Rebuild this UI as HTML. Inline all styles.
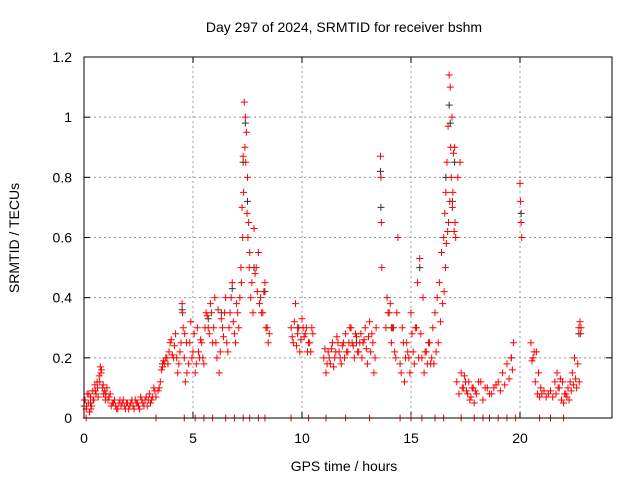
<!DOCTYPE html>
<html><head><meta charset="utf-8"><style>
body{margin:0;background:#fff}
svg{display:block;font-family:"Liberation Sans",sans-serif}
</style></head><body>
<svg id="chart" width="640" height="480" viewBox="0 0 640 480">
<rect width="640" height="480" fill="#fff"/>
<text x="344" y="32" font-size="14" text-anchor="middle">Day 297 of 2024, SRMTID for receiver bshm</text>
<text x="344" y="471" font-size="14" text-anchor="middle">GPS time / hours</text>
<text transform="translate(19,238) rotate(-90)" font-size="14" text-anchor="middle">SRMTID / TECUs</text>
<g id="grid"></g><g id="ticks"></g><g id="points"></g>
<rect x="84" y="57" width="528" height="361" fill="none" stroke="#000" stroke-width="1"/>
</svg>
<script>
const xTicks=[0,5,10,15,20];
const yTicks=[0,0.2,0.4,0.6,0.8,1,1.2];
const yTickLabels=["0","0.2","0.4","0.6","0.8","1","1.2"];
const hours=[0.0,0.05,0.1,0.15,0.2,0.25,0.3,0.35,0.4,0.45,0.5,0.55,0.6,0.65,0.7,0.75,0.8,0.85,0.9,0.95,1.0,1.05,1.1,1.2,1.3,1.4,1.5,1.6,1.7,1.8,1.9,2.0,2.1,2.2,2.3,2.4,2.5,2.6,2.7,2.8,2.9,3.0,3.1,3.2,3.3,3.4,3.5,3.6,3.7,3.8,3.9,4.0,4.1,4.2,4.3,4.4,4.5,4.55,4.6,4.65,4.7,4.8,4.9,5.0,5.1,5.2,5.3,5.4,5.5,5.6,5.7,5.8,5.9,6.0,6.1,6.2,6.3,6.4,6.5,6.6,6.7,6.8,6.9,7.0,7.1,7.2,7.25,7.3,7.35,7.4,7.45,7.5,7.55,7.6,7.7,7.8,7.9,8.0,8.1,8.2,8.3,8.4,8.5,9.5,9.6,9.7,9.8,9.9,10.0,10.1,10.2,10.3,10.4,10.5,11.0,11.1,11.2,11.3,11.4,11.5,11.6,11.7,11.8,11.9,12.0,12.1,12.2,12.3,12.4,12.5,12.6,12.7,12.8,12.9,13.0,13.1,13.2,13.3,13.4,13.6,13.62,13.64,13.66,13.9,14.0,14.1,14.2,14.3,14.4,14.5,14.6,14.7,14.8,14.9,15.0,15.1,15.2,15.3,15.4,15.5,15.6,15.7,15.8,15.9,16.0,16.1,16.2,16.3,16.4,16.5,16.55,16.6,16.65,16.7,16.75,16.8,16.85,16.9,16.95,17.0,17.05,17.1,17.2,17.3,17.4,17.5,17.6,17.7,17.8,17.9,18.0,18.2,18.4,18.6,18.8,19.0,19.2,19.4,19.6,19.7,20.0,20.02,20.05,20.08,20.5,20.6,20.7,20.8,20.9,21.0,21.2,21.4,21.6,21.7,21.8,21.9,22.0,22.1,22.2,22.3,22.4,22.5,22.6,22.7,22.75,22.8];
const srmtid=[.04,.06,.03,.08,.05,.02,.07,.04,.09,.06,.11,.08,.12,.07,.14,.17,.16,.1,.08,.09,.07,.1,.06,.08,.05,.06,.03,.05,.04,.06,.03,.05,.04,.06,.03,.05,.04,.07,.05,.06,.04,.08,.06,.1,.07,.09,.12,.17,.18,.2,.22,.26,.2,.28,.15,.22,.38,.3,.2,.12,.25,.18,.32,.22,.15,.3,.2,.25,.18,.35,.3,.38,.25,.4,.2,.15,.33,.27,.4,.22,.35,.45,.28,.38,.3,.5,.7,.87,1.05,1.0,.95,.8,.65,.55,.45,.63,.5,.55,.4,.35,.45,.3,.28,.3,.25,.38,.28,.22,.33,.27,.3,.25,.22,.28,.2,.15,.22,.18,.25,.2,.27,.22,.18,.25,.28,.22,.3,.25,.2,.27,.22,.28,.25,.3,.18,.32,.28,.15,.3,.87,.8,.65,.5,.4,.35,.25,.3,.2,.6,.18,.3,.12,.25,.2,.35,.22,.3,.45,.53,.2,.15,.22,.25,.18,.3,.35,.4,.45,.55,.6,.68,.75,.85,.97,1.14,1.1,.8,.7,.88,.9,.6,.12,.08,.15,.1,.12,.08,.06,.1,.05,.08,.12,.1,.08,.1,.12,.15,.18,.2,.25,.78,.72,.65,.6,.25,.2,.12,.08,.07,.08,.07,.09,.12,.15,.1,.06,.05,.08,.1,.12,.15,.2,.1,.3,.32,.3];
const hours2=[0.02,0.12,0.22,0.32,0.42,0.52,0.62,0.72,0.78,0.88,0.98,1.15,1.25,1.35,1.45,1.55,1.65,1.75,1.85,1.95,2.05,2.15,2.25,2.35,2.45,2.55,2.65,2.75,2.85,2.95,3.05,3.15,3.25,3.45,3.55,3.65,3.75,3.85,3.95,4.05,4.15,4.25,4.35,4.45,4.52,4.62,4.72,4.85,4.95,5.05,5.15,5.25,5.35,5.45,5.55,5.65,5.75,5.85,5.95,6.05,6.15,6.25,6.35,6.45,6.55,6.65,6.75,6.85,6.95,7.05,7.15,7.22,7.28,7.32,7.38,7.42,7.48,7.52,7.58,7.65,7.75,7.85,7.95,8.05,8.15,8.25,8.35,8.45,9.55,9.65,9.75,9.85,9.95,10.05,10.15,10.25,10.35,10.45,11.05,11.15,11.25,11.35,11.45,11.55,11.65,11.75,11.85,11.95,12.05,12.15,12.25,12.35,12.45,12.55,12.65,12.75,12.85,12.95,13.05,13.15,13.25,13.35,13.85,13.95,14.05,14.15,14.25,14.35,14.55,14.65,14.75,14.85,14.95,15.05,15.15,15.25,15.35,15.45,15.55,15.65,15.75,15.85,15.95,16.05,16.15,16.25,16.35,16.45,16.52,16.58,16.62,16.68,16.72,16.78,16.82,16.88,16.92,16.98,17.02,17.15,17.25,17.35,17.45,17.55,17.65,17.75,17.85,17.95,18.1,18.3,18.5,18.7,18.9,19.1,19.3,19.5,19.65,20.55,20.65,20.75,20.85,20.95,21.1,21.3,21.5,21.65,21.75,21.85,21.95,22.05,22.15,22.25,22.35,22.45,22.55,22.65,22.72,22.78];
const srmtid2=[.06,.04,.08,.03,.06,.09,.1,.12,.15,.11,.06,.07,.04,.05,.04,.03,.06,.05,.04,.05,.03,.05,.04,.06,.05,.03,.06,.04,.07,.06,.05,.07,.09,.1,.16,.19,.2,.18,.25,.21,.24,.2,.18,.25,.35,.28,.15,.25,.2,.28,.18,.22,.26,.2,.3,.34,.28,.35,.3,.25,.36,.22,.3,.35,.25,.3,.4,.32,.25,.35,.4,.45,.6,.75,.9,.85,.68,.6,.5,.4,.35,.48,.42,.38,.35,.42,.3,.25,.27,.32,.24,.3,.26,.3,.28,.22,.25,.3,.23,.18,.2,.23,.17,.22,.25,.2,.24,.2,.22,.25,.3,.24,.28,.22,.25,.2,.26,.23,.27,.22,.25,.2,.3,.35,.38,.3,.22,.35,.15,.25,.2,.22,.15,.28,.18,.3,.2,.28,.4,.22,.18,.25,.2,.18,.22,.25,.32,.38,.42,.5,.58,.62,.65,.72,.9,1.0,.75,.62,.65,.8,.85,.1,.14,.09,.12,.07,.1,.09,.12,.06,.1,.08,.11,.09,.11,.13,.16,.19,.22,.22,.15,.1,.09,.08,.07,.08,.1,.13,.12,.08,.07,.06,.09,.11,.13,.18,.12,.28,.31,.33];
const darkHours=[0.3,1.0,3.6,4.5,5.7,6.3,6.8,7.3,7.4,7.5,7.8,8.3,9.8,12.5,13.6,13.62,14.1,15.4,16.6,16.75,16.8,16.9,17.0,19.6,20.05,22.7];
const darkValues=[.05,.08,.18,.36,.33,.35,.43,.85,.98,.72,.5,.42,.3,.25,.82,.7,.3,.5,.8,1.04,.98,.72,.85,.2,.68,.28];
const zeroHours=[0.1,3.3,4.6,5.1,5.5,5.9,6.5,6.9,7.3,7.6,8.0,8.3,9.5,10.3,11.1,12.0,13.1,14.5,15.0,15.5,16.1,16.5,17.3,17.9,18.3,18.6,19.0,19.4,19.8,20.9,21.4,22.0];
const zeroValues=zeroHours.map(()=>0);

const X0=84,X1=612,Y0=418,Y1=57,XMAX=24.22,YMAX=1.2;
const xs=h=>X0+(X1-X0)*h/XMAX;
const ys=v=>Y0-(Y0-Y1)*v/YMAX;
const NS="http://www.w3.org/2000/svg";
const mk=(t,a)=>{const e=document.createElementNS(NS,t);for(const k in a)e.setAttribute(k,a[k]);return e;};
const grid=document.getElementById('grid'),ticks=document.getElementById('ticks'),pts=document.getElementById('points');
xTicks.forEach((t,i)=>{const x=xs(t);
 if(t>0){const g=mk('line',{x1:x,x2:x,y1:Y0,y2:Y1,stroke:'#999','stroke-dasharray':'2,3'});
 
 grid.appendChild(g);}
 ticks.appendChild(mk('line',{x1:x,x2:x,y1:Y0,y2:Y0-6,stroke:'#000'}));
 ticks.appendChild(mk('line',{x1:x,x2:x,y1:Y1,y2:Y1+6,stroke:'#000'}));
 const l=mk('text',{x:x,y:443,'font-size':14,'text-anchor':'middle'});l.textContent=String(t);
 
 ticks.appendChild(l);});
yTicks.forEach((t,i)=>{const y=ys(t);
 if(t>0&&t<YMAX){const g=mk('line',{x1:X0,x2:X1,y1:y,y2:y,stroke:'#999','stroke-dasharray':'2,3'});
 
 grid.appendChild(g);}
 ticks.appendChild(mk('line',{x1:X0,x2:X0+6,y1:y,y2:y,stroke:'#000'}));
 ticks.appendChild(mk('line',{x1:X1,x2:X1-6,y1:y,y2:y,stroke:'#000'}));
 const l=mk('text',{x:72,y:y+5,'font-size':14,'text-anchor':'end'});l.textContent=yTickLabels[i];
 
 ticks.appendChild(l);});
function plus(h,v,c){const x=xs(h),y=ys(v);
 const p=mk('path',{d:`M${x-3.5},${y}H${x+3.5}M${x},${y-3.5}V${y+3.5}`,stroke:c,'stroke-width':1});
 
 pts.appendChild(p);}
darkHours.forEach((h,i)=>plus(h,darkValues[i],'#333'));
hours.forEach((h,i)=>plus(h,srmtid[i],'#f00'));
hours2.forEach((h,i)=>plus(h,srmtid2[i],'#f00'));
zeroHours.forEach((h,i)=>plus(h,zeroValues[i],'#f00'));
</script>
</body></html>
